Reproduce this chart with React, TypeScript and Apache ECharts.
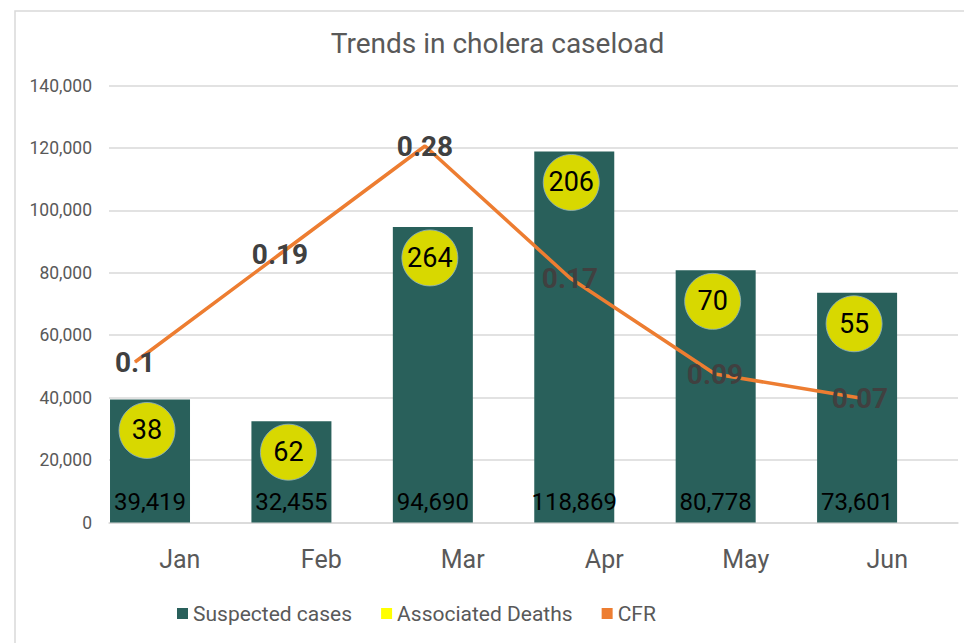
import React, { useEffect, useRef } from "react";
import * as echarts from "echarts";

const categories = ["Jan", "Feb", "Mar", "Apr", "May", "Jun"];
const suspectedCases = [39419, 32455, 94690, 118869, 80778, 73601];
const associatedDeaths = [38, 62, 264, 206, 70, 55];
const cfr = [0.1, 0.19, 0.28, 0.17, 0.09, 0.07];
const yMin = 0;
const yMax = 140000;
const yInterval = 20000;

const FONT = "Roboto, 'Noto Sans', sans-serif";
const TEAL = "#29605B";
const YELLOW = "#D8D800";
const ORANGE = "#ED7D31";
const GRAY_TEXT = "#595959";
const GRID_LINE = "#D9D9D9";

export default function App() {
  const ref = useRef<HTMLDivElement>(null);

  useEffect(() => {
    if (!ref.current) return;
    const chart = echarts.init(ref.current, null, { renderer: "svg" });
    const fmt = (v: number) => v.toLocaleString("en-US");

    chart.setOption({
      animation: false,
      textStyle: { fontFamily: FONT },
      graphic: [
        {
          type: "rect",
          shape: { x: 15, y: 11, width: 1000, height: 700 },
          style: { fill: "none", stroke: GRID_LINE, lineWidth: 1.5 },
          silent: true,
          z: -10,
        },
        {
          type: "text",
          x: 497.5,
          y: 43,
          style: {
            text: "Trends in cholera caseload",
            fontSize: 28,
            fontFamily: FONT,
            fill: GRAY_TEXT,
            textAlign: "center",
            textVerticalAlign: "middle",
          },
        },
      ],
      legend: {
        left: 172,
        top: 598,
        icon: "rect",
        itemWidth: 11,
        itemHeight: 11,
        itemGap: 29,
        textStyle: { fontSize: 21, color: GRAY_TEXT, fontFamily: FONT },
        data: [
          { name: "Suspected cases", itemStyle: { color: TEAL } },
          { name: "Associated Deaths", itemStyle: { color: "#FFFF00", borderWidth: 0 } },
          { name: "CFR", itemStyle: { color: ORANGE } },
        ],
      },
      grid: [
        { left: 109, right: 6, top: 85.5, bottom: 120.5 },
        { left: 79.3, width: 848.5, top: 85.5, bottom: 120.5 },
        { left: 62.5, width: 870, top: 122, height: 360 },
      ],
      xAxis: [
        {
          type: "category",
          gridIndex: 0,
          data: categories,
          axisLine: { show: true, lineStyle: { color: GRID_LINE, width: 1.5 } },
          axisTick: { show: false },
          axisLabel: { fontSize: 25, color: GRAY_TEXT, margin: 24, fontFamily: FONT },
        },
        { type: "category", gridIndex: 1, data: categories, show: false },
        { type: "category", gridIndex: 2, data: categories, show: false },
      ],
      yAxis: [
        {
          type: "value",
          gridIndex: 0,
          min: yMin,
          max: yMax,
          interval: yInterval,
          axisLine: { show: false },
          axisTick: { show: false },
          splitLine: { lineStyle: { color: GRID_LINE, width: 1.5 } },
          axisLabel: { fontSize: 17.5, color: GRAY_TEXT, margin: 17, formatter: fmt, fontFamily: FONT },
        },
        { type: "value", gridIndex: 1, min: yMin, max: yMax, interval: yInterval, show: false, splitLine: { show: false } },
        { type: "value", gridIndex: 2, min: 0, max: 0.3, show: false, splitLine: { show: false } },
      ],
      series: [
        {
          name: "Suspected cases",
          type: "bar",
          xAxisIndex: 1,
          yAxisIndex: 1,
          data: suspectedCases,
          barWidth: 80,
          itemStyle: { color: TEAL },
          z: 2,
          label: {
            show: true,
            position: "insideBottom",
            distance: 9,
            fontSize: 24,
            color: "#000000",
            fontFamily: FONT,
            formatter: (p: any) => fmt(p.value),
          },
        },
        {
          name: "Associated Deaths",
          type: "scatter",
          xAxisIndex: 1,
          yAxisIndex: 1,
          data: suspectedCases.map((v, i) => [i, v]),
          symbol: "circle",
          symbolSize: 56,
          symbolOffset: [-3, 31],
          itemStyle: { color: YELLOW, borderColor: "#8FB3C8", borderWidth: 0.8, opacity: 1 },
          z: 3,
          label: {
            show: true,
            position: "inside",
            fontSize: 27,
            color: "#000000",
            fontFamily: FONT,
            formatter: (p: any) => String(associatedDeaths[p.dataIndex]),
          },
        },
        {
          name: "CFR",
          type: "line",
          xAxisIndex: 2,
          yAxisIndex: 2,
          data: cfr,
          symbol: "circle",
          symbolSize: 1,
          lineStyle: { color: ORANGE, width: 3.5 },
          itemStyle: { color: ORANGE },
          z: 4,
          label: {
            show: true,
            position: "inside",
            fontSize: 28,
            fontWeight: "bold",
            color: "#404040",
            fontFamily: FONT,
            formatter: (p: any) => String(p.value),
          },
        },
      ],
    });

    return () => chart.dispose();
  }, []);

  return (
    <div
      ref={ref}
      style={{ position: "fixed", left: 0, top: 0, width: 964, height: 643, background: "#ffffff" }}
    />
  );
}
